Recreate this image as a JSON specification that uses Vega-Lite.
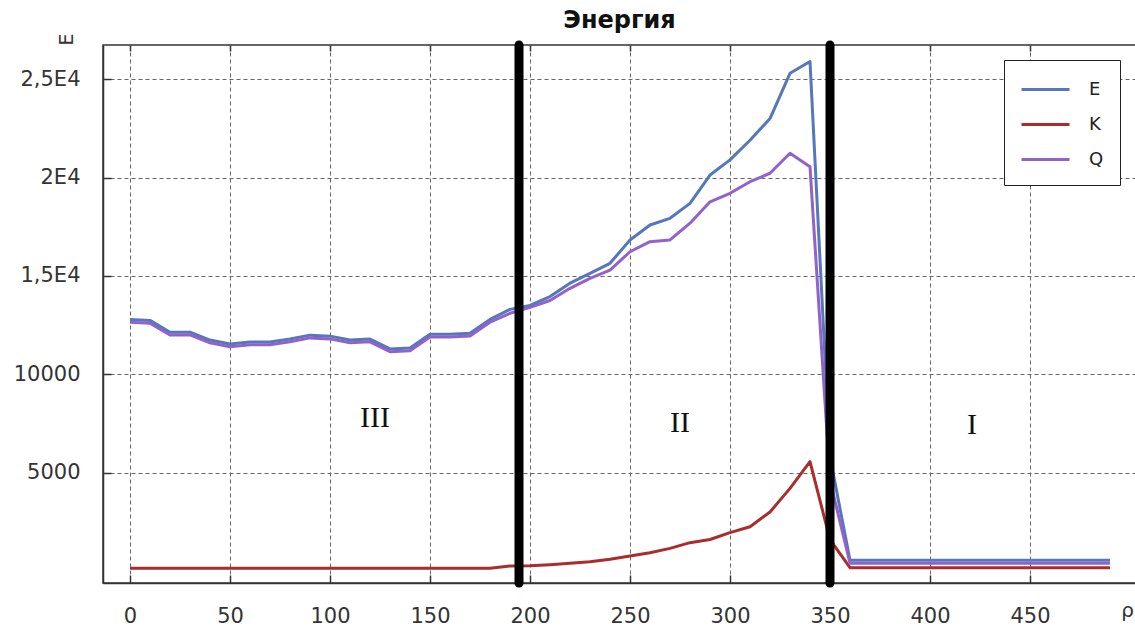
{
  "$schema": "https://vega.github.io/schema/vega-lite/v6.json",
  "width": 1033,
  "height": 538,
  "autosize": {"type": "none"},
  "padding": {"left": 103, "top": 45, "right": 0, "bottom": 45},
  "background": "white",
  "title": {"text": "Энергия", "font": "DejaVu Sans", "fontSize": 24, "fontWeight": "bold", "color": "#111", "anchor": "middle", "baseline": "alphabetic", "offset": 4, "dy": 23},
  "config": {
    "view": {"stroke": "#333", "strokeWidth": 1.5},
    "axis": {
      "labelFont": "DejaVu Sans", "labelFontSize": 21, "labelColor": "#333",
      "domainColor": "#333", "domainWidth": 1.5,
      "tickColor": "#333", "tickWidth": 1.5, "tickSize": -8,
      "gridColor": "#666", "gridDash": [4, 3], "gridWidth": 1, "gridOpacity": 1,
      "titleFont": "DejaVu Sans", "titleFontWeight": "normal", "titleColor": "#333"
    },
    "legend": {
      "orient": "none", "legendX": 901, "legendY": 15,
      "symbolType": "M-2,0L2,0", "symbolSize": 576, "symbolStrokeWidth": 3, "symbolOffset": 12,
      "labelFont": "DejaVu Sans", "labelFontSize": 18, "labelColor": "#222",
      "labelOffset": 30, "rowPadding": 12, "padding": 16,
      "strokeColor": "#222", "fillColor": "white"
    }
  },
  "datasets": {
    "series": [
      {"rho": 0, "E": 12.79, "K": 0.14, "Q": 12.65},
      {"rho": 10, "E": 12.74, "K": 0.14, "Q": 12.6},
      {"rho": 20, "E": 12.14, "K": 0.14, "Q": 12.0},
      {"rho": 30, "E": 12.14, "K": 0.14, "Q": 12.0},
      {"rho": 40, "E": 11.74, "K": 0.14, "Q": 11.6},
      {"rho": 50, "E": 11.54, "K": 0.14, "Q": 11.4},
      {"rho": 60, "E": 11.64, "K": 0.14, "Q": 11.5},
      {"rho": 70, "E": 11.64, "K": 0.14, "Q": 11.5},
      {"rho": 80, "E": 11.79, "K": 0.14, "Q": 11.65},
      {"rho": 90, "E": 11.99, "K": 0.14, "Q": 11.85},
      {"rho": 100, "E": 11.94, "K": 0.14, "Q": 11.8},
      {"rho": 110, "E": 11.74, "K": 0.14, "Q": 11.6},
      {"rho": 120, "E": 11.79, "K": 0.14, "Q": 11.65},
      {"rho": 130, "E": 11.29, "K": 0.14, "Q": 11.15},
      {"rho": 140, "E": 11.34, "K": 0.14, "Q": 11.2},
      {"rho": 150, "E": 12.04, "K": 0.14, "Q": 11.9},
      {"rho": 160, "E": 12.04, "K": 0.14, "Q": 11.9},
      {"rho": 170, "E": 12.09, "K": 0.14, "Q": 11.95},
      {"rho": 180, "E": 12.79, "K": 0.14, "Q": 12.65},
      {"rho": 190, "E": 13.3, "K": 0.25, "Q": 13.1},
      {"rho": 200, "E": 13.5, "K": 0.27, "Q": 13.4},
      {"rho": 210, "E": 13.95, "K": 0.32, "Q": 13.75},
      {"rho": 220, "E": 14.63, "K": 0.39, "Q": 14.37},
      {"rho": 230, "E": 15.13, "K": 0.47, "Q": 14.88},
      {"rho": 240, "E": 15.64, "K": 0.6, "Q": 15.3},
      {"rho": 250, "E": 16.83, "K": 0.76, "Q": 16.23},
      {"rho": 260, "E": 17.59, "K": 0.93, "Q": 16.74},
      {"rho": 270, "E": 17.93, "K": 1.15, "Q": 16.83},
      {"rho": 280, "E": 18.69, "K": 1.44, "Q": 17.68},
      {"rho": 290, "E": 20.13, "K": 1.6, "Q": 18.77},
      {"rho": 300, "E": 20.9, "K": 1.95, "Q": 19.2},
      {"rho": 310, "E": 21.9, "K": 2.25, "Q": 19.79},
      {"rho": 320, "E": 23.0, "K": 3.0, "Q": 20.22},
      {"rho": 330, "E": 25.3, "K": 4.2, "Q": 21.24},
      {"rho": 340, "E": 25.9, "K": 5.56, "Q": 20.55},
      {"rho": 350, "E": 5.8, "K": 1.6, "Q": 4.6},
      {"rho": 360, "E": 0.55, "K": 0.17, "Q": 0.4},
      {"rho": 370, "E": 0.55, "K": 0.17, "Q": 0.4},
      {"rho": 380, "E": 0.55, "K": 0.17, "Q": 0.4},
      {"rho": 390, "E": 0.55, "K": 0.17, "Q": 0.4},
      {"rho": 400, "E": 0.55, "K": 0.17, "Q": 0.4},
      {"rho": 410, "E": 0.55, "K": 0.17, "Q": 0.4},
      {"rho": 420, "E": 0.55, "K": 0.17, "Q": 0.4},
      {"rho": 430, "E": 0.55, "K": 0.17, "Q": 0.4},
      {"rho": 440, "E": 0.55, "K": 0.17, "Q": 0.4},
      {"rho": 450, "E": 0.55, "K": 0.17, "Q": 0.4},
      {"rho": 460, "E": 0.55, "K": 0.17, "Q": 0.4},
      {"rho": 470, "E": 0.55, "K": 0.17, "Q": 0.4},
      {"rho": 480, "E": 0.55, "K": 0.17, "Q": 0.4},
      {"rho": 490, "E": 0.55, "K": 0.17, "Q": 0.4}
    ],
    "bounds": [{"rho": 194.5}, {"rho": 350}],
    "zones": [
      {"rho": 122.5, "energy": 7780, "zone": "III"},
      {"rho": 275, "energy": 7520, "zone": "II"},
      {"rho": 421, "energy": 7420, "zone": "I"}
    ]
  },
  "resolve": {"axis": {"x": "independent"}},
  "layer": [
    {
      "data": {"name": "series"},
      "transform": [
        {"fold": ["E", "K", "Q"], "as": ["series", "kval"]},
        {"calculate": "datum.kval * 1000", "as": "energy"}
      ],
      "mark": {"type": "line", "strokeWidth": 3, "strokeJoin": "round"},
      "encoding": {
        "x": {"field": "rho", "type": "quantitative",
              "scale": {"domain": [-13.5, 503], "nice": false, "zero": false},
              "axis": {"values": [0, 50, 100, 150, 200, 250, 300, 350, 400, 450], "title": "ρ",
                       "titleFontSize": 20, "titleAngle": 0, "titleX": 1024, "titleY": 27,
                       "titleAlign": "center", "titleBaseline": "middle", "labelPadding": 30}},
        "y": {"field": "energy", "type": "quantitative",
              "scale": {"domain": [-610, 26740], "nice": false, "zero": false},
              "axis": {"values": [5000, 10000, 15000, 20000, 25000], "format": "d",
                       "labelExpr": "datum.value == 25000 ? '2,5E4' : datum.value == 20000 ? '2E4' : datum.value == 15000 ? '1,5E4' : datum.label",
                       "labelPadding": 31, "title": "E", "titleFontSize": 19, "titleAngle": 270,
                       "titleX": -37, "titleY": -6, "titleAlign": "center", "titleBaseline": "middle"}},
        "color": {"field": "series", "type": "nominal",
                  "scale": {"domain": ["E", "K", "Q"], "range": ["#5577bb", "#aa2d2d", "#9262cc"]},
                  "legend": {"title": null, "labelExpr": "datum.label + '\u00a0\u00a0'"}},
        "order": {"field": "series"}
      }
    },
    {
      "data": {"name": "bounds"},
      "mark": {"type": "rule", "strokeWidth": 9, "color": "black", "strokeCap": "round"},
      "encoding": {
        "x": {"field": "rho", "type": "quantitative",
              "axis": {"orient": "top", "values": [0, 50, 100, 150, 200, 250, 300, 350, 400, 450],
                       "labels": false, "grid": false, "domain": false, "title": null, "tickSize": -6}}
      }
    },
    {
      "data": {"name": "zones"},
      "mark": {"type": "text", "font": "Liberation Serif", "fontSize": 30, "color": "#111", "baseline": "middle", "align": "center"},
      "encoding": {
        "x": {"field": "rho", "type": "quantitative", "axis": null},
        "y": {"field": "energy", "type": "quantitative"},
        "text": {"field": "zone"}
      }
    }
  ]
}
